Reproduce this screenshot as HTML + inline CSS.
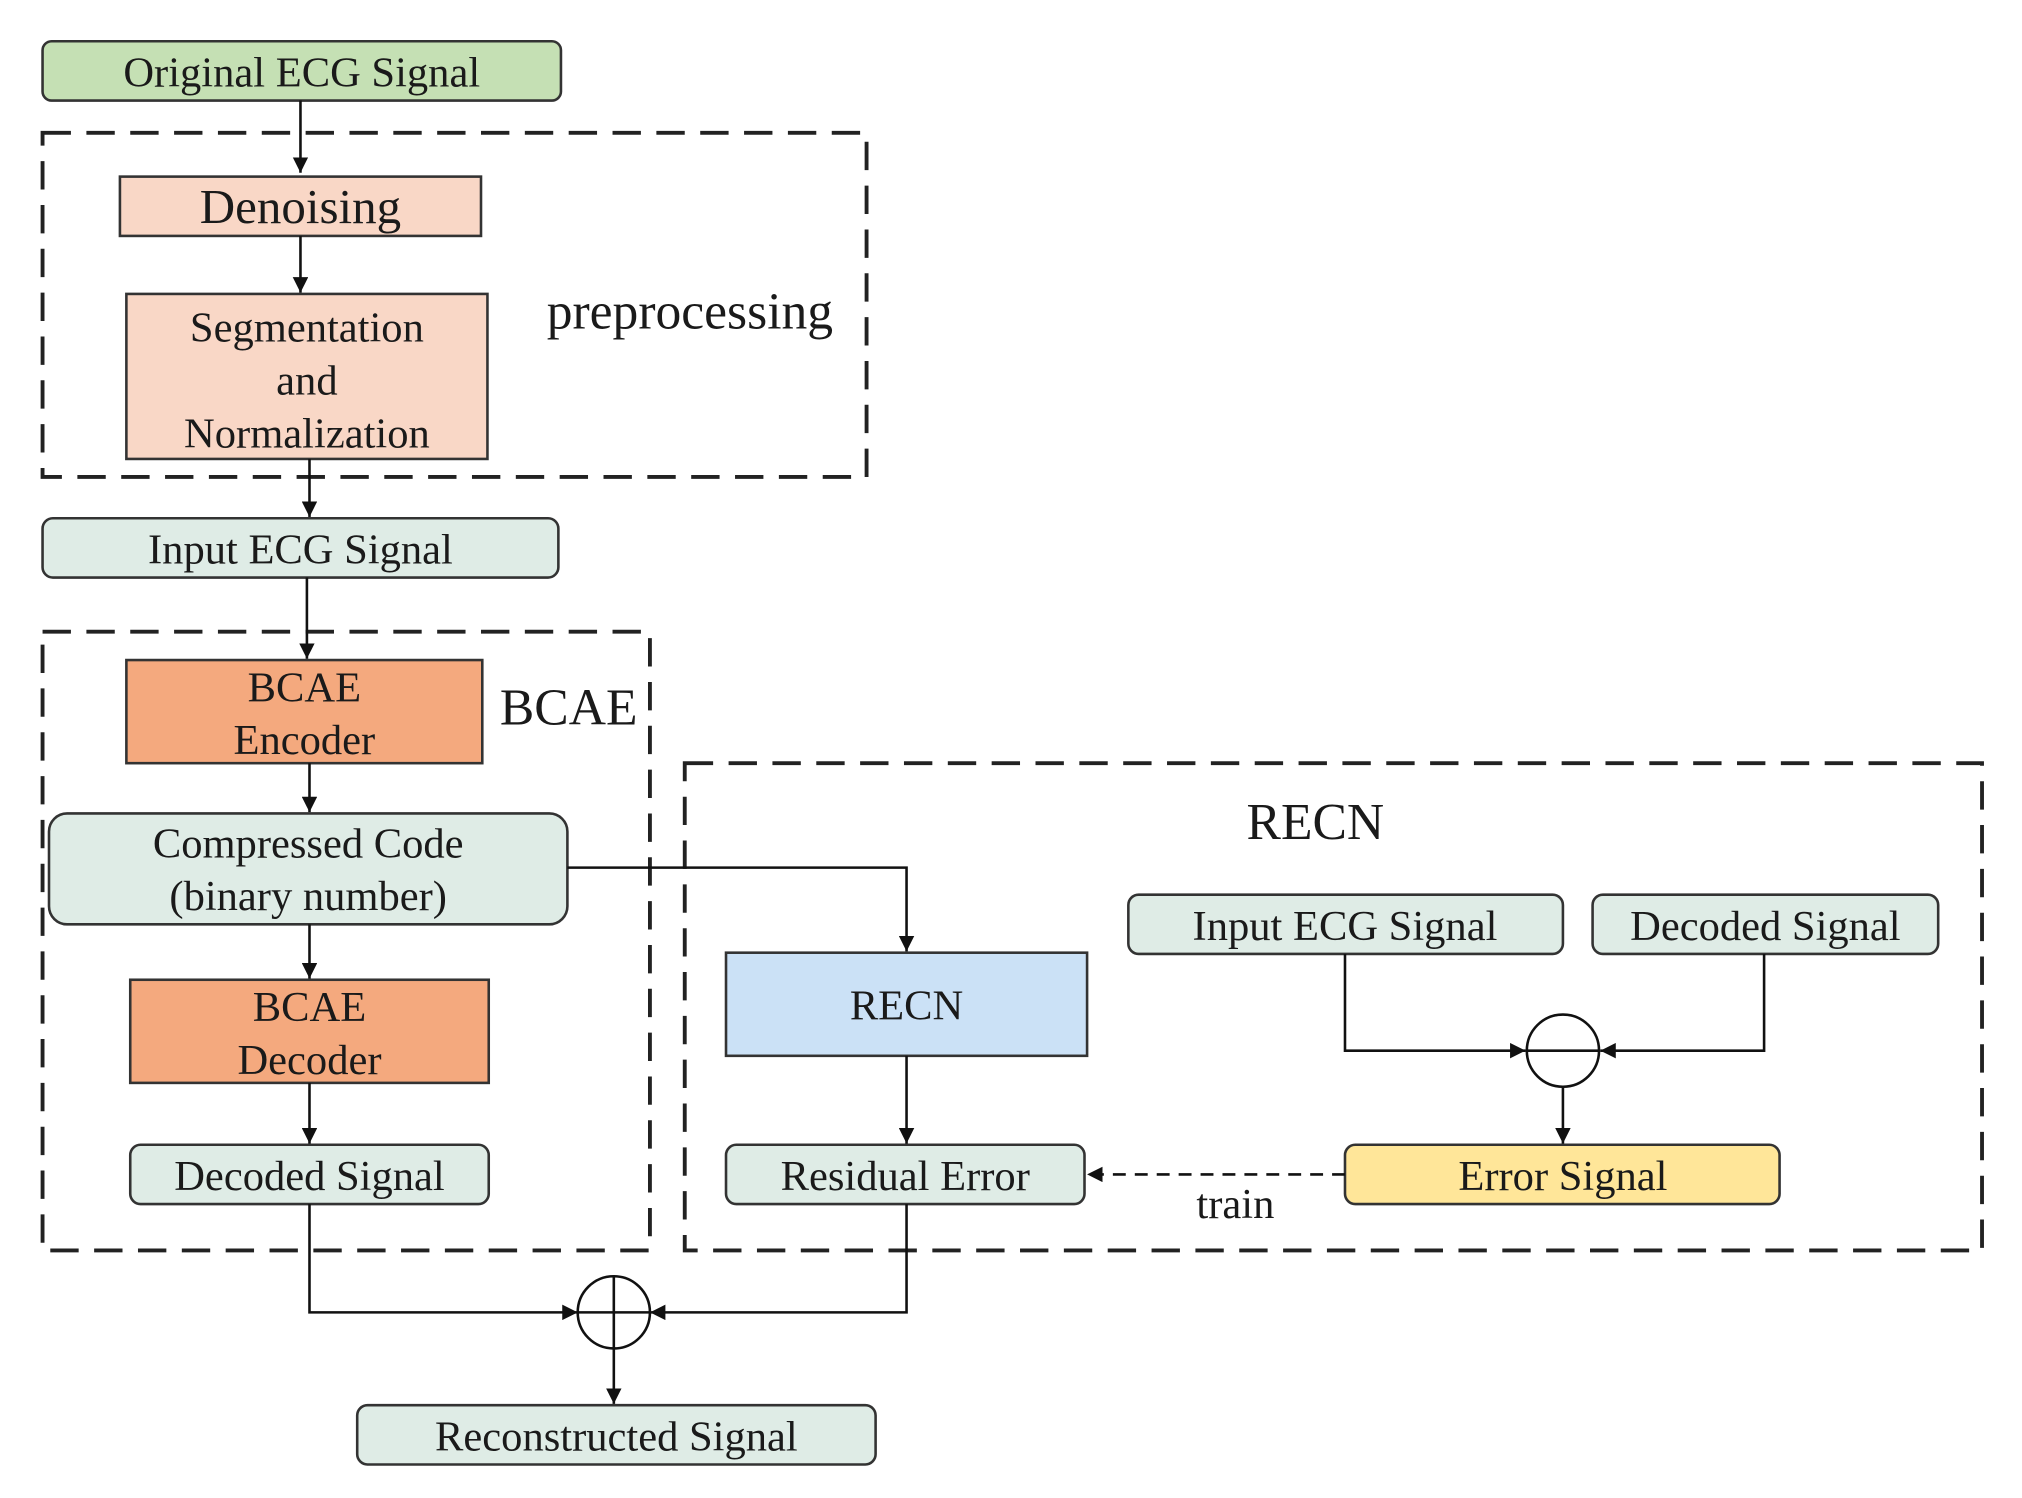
<!DOCTYPE html>
<html><head><meta charset="utf-8"><style>
html,body{margin:0;padding:0;background:#fff;}
svg{display:block;}
text{font-family:"Liberation Serif",serif;fill:#1a1a1a;text-anchor:middle;}
</style></head><body>
<svg width="2022" height="1498" viewBox="0 0 1568 1162" preserveAspectRatio="none">
<defs>
<marker id="b" viewBox="0 0 10 10" refX="10" refY="5" markerWidth="12" markerHeight="12" orient="auto" markerUnits="userSpaceOnUse"><path d="M0,0L10,5L0,10z" fill="#111"/></marker>
</defs>
<g fill="none" stroke="#222" stroke-width="3" stroke-dasharray="22,12">
<rect x="33" y="103" width="639" height="267"/>
<rect x="33" y="490" width="471" height="480"/>
<rect x="531" y="592" width="1006" height="378"/>
</g>
<g stroke="#333" stroke-width="2">
<rect x="33" y="32" width="402" height="46" rx="7" fill="#c5e0b4"/>
<rect x="93" y="137" width="280" height="46" fill="#f9d7c6"/>
<rect x="98" y="228" width="280" height="128" fill="#f9d7c6"/>
<rect x="33" y="402" width="400" height="46" rx="8" fill="#dfece6"/>
<rect x="98" y="512" width="276" height="80" fill="#f4a97e"/>
<rect x="38" y="631" width="402" height="86" rx="14" fill="#dfece6"/>
<rect x="101" y="760" width="278" height="80" fill="#f4a97e"/>
<rect x="101" y="888" width="278" height="46" rx="8" fill="#dfece6"/>
<rect x="563" y="739" width="280" height="80" fill="#cbe1f6"/>
<rect x="563" y="888" width="278" height="46" rx="8" fill="#dfece6"/>
<rect x="875" y="694" width="337" height="46" rx="8" fill="#dfece6"/>
<rect x="1235" y="694" width="268" height="46" rx="8" fill="#dfece6"/>
<rect x="1043" y="888" width="337" height="46" rx="8" fill="#ffe699"/>
<rect x="277" y="1090" width="402" height="46" rx="8" fill="#dfece6"/>
</g>
<g fill="none" stroke="#111" stroke-width="2">
<line x1="233" y1="78" x2="233" y2="134" marker-end="url(#b)"/>
<line x1="233" y1="183" x2="233" y2="227" marker-end="url(#b)"/>
<line x1="240" y1="356" x2="240" y2="401" marker-end="url(#b)"/>
<line x1="238" y1="448" x2="238" y2="511" marker-end="url(#b)"/>
<line x1="240" y1="592" x2="240" y2="630" marker-end="url(#b)"/>
<polyline points="440,673 703,673 703,738" marker-end="url(#b)"/>
<line x1="240" y1="717" x2="240" y2="759" marker-end="url(#b)"/>
<line x1="240" y1="840" x2="240" y2="887" marker-end="url(#b)"/>
<line x1="703" y1="819" x2="703" y2="887" marker-end="url(#b)"/>
<polyline points="1043,740 1043,815 1183,815" marker-end="url(#b)"/>
<polyline points="1368,740 1368,815 1241,815" marker-end="url(#b)"/>
<circle cx="1212" cy="815" r="28"/>
<line x1="1184" y1="815" x2="1240" y2="815"/>
<line x1="1212" y1="843" x2="1212" y2="887" marker-end="url(#b)"/>
<line x1="1043" y1="911" x2="843" y2="911" stroke-dasharray="10,7" marker-end="url(#b)"/>
<polyline points="240,934 240,1018 448,1018" marker-end="url(#b)"/>
<polyline points="703,934 703,1018 504,1018" marker-end="url(#b)"/>
<circle cx="476" cy="1018" r="28"/>
<line x1="448" y1="1018" x2="504" y2="1018"/>
<line x1="476" y1="990" x2="476" y2="1046"/>
<line x1="476" y1="1046" x2="476" y2="1089" marker-end="url(#b)"/>
</g>
<g font-size="33">
<text x="234" y="67">Original ECG Signal</text>
<text x="233" y="173" font-size="38">Denoising</text>
<text x="238" y="265">Segmentation</text>
<text x="238" y="306">and</text>
<text x="238" y="347">Normalization</text>
<text x="535" y="255" font-size="40">preprocessing</text>
<text x="233" y="437">Input ECG Signal</text>
<text x="236" y="544">BCAE</text>
<text x="236" y="585">Encoder</text>
<text x="441" y="562" font-size="40">BCAE</text>
<text x="239" y="665">Compressed Code</text>
<text x="239" y="706">(binary number)</text>
<text x="240" y="792">BCAE</text>
<text x="240" y="833">Decoder</text>
<text x="240" y="923">Decoded Signal</text>
<text x="1020" y="651" font-size="40">RECN</text>
<text x="703" y="791">RECN</text>
<text x="702" y="923">Residual Error</text>
<text x="1043" y="729">Input ECG Signal</text>
<text x="1369" y="729">Decoded Signal</text>
<text x="1212" y="923">Error Signal</text>
<text x="958" y="945">train</text>
<text x="478" y="1125">Reconstructed Signal</text>
</g>
</svg>
</body></html>
